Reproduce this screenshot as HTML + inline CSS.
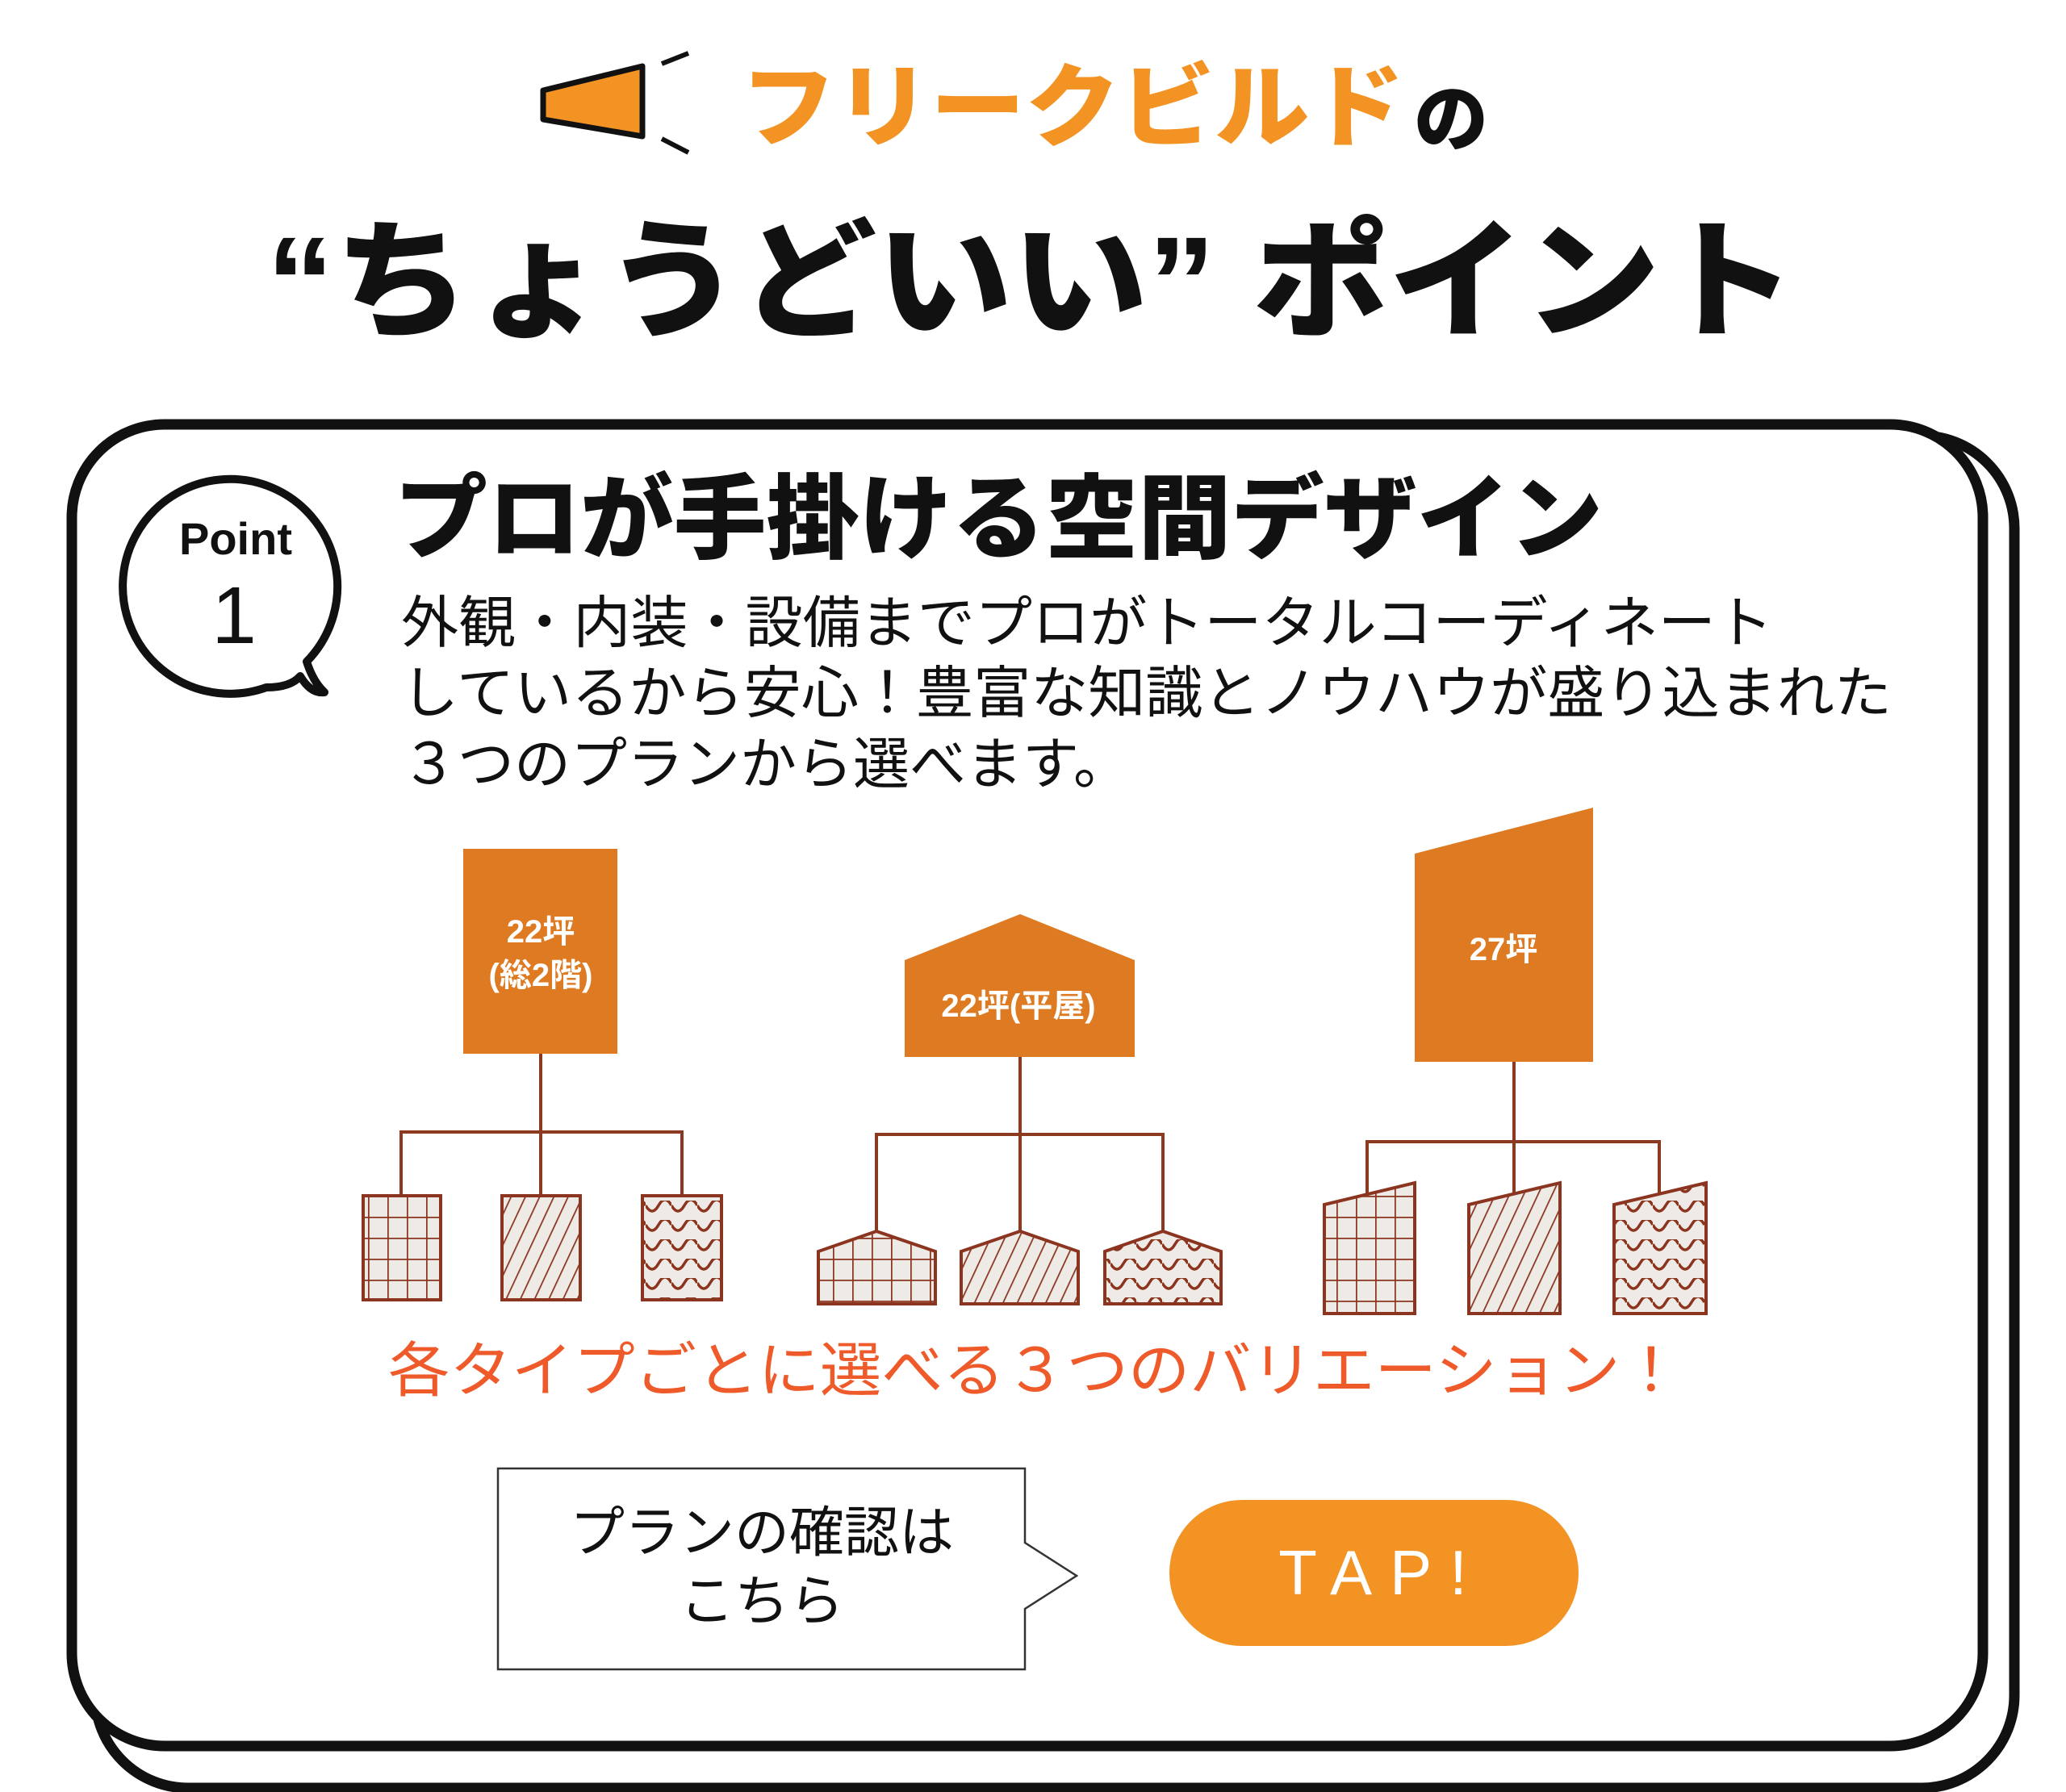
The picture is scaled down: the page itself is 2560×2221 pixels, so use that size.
<!DOCTYPE html>
<html><head><meta charset="utf-8"><style>
html,body{margin:0;padding:0;background:#fff;}
svg{display:block;}
text{font-family:"Liberation Sans","Noto Sans CJK JP",sans-serif;}
</style></head><body>
<svg width="2560" height="2221" viewBox="0 0 2560 2221" xmlns="http://www.w3.org/2000/svg">
<defs>
<pattern id="grid" width="24" height="26" patternUnits="userSpaceOnUse">
<rect width="24" height="26" fill="#eeeae6"/>
<path d="M0 0H24M0 0V26" stroke="#8b3520" stroke-width="3.5" fill="none"/>
</pattern>
<pattern id="stripe" width="16" height="16" patternUnits="userSpaceOnUse" patternTransform="rotate(25)">
<rect width="16" height="16" fill="#eeeae6"/>
<path d="M0 0V16" stroke="#8b3520" stroke-width="3.5"/>
</pattern>
<pattern id="wave" width="32" height="24" patternUnits="userSpaceOnUse">
<rect width="32" height="24" fill="#eeeae6"/>
<path d="M0 6 Q8 20 16 6 T32 6" stroke="#8b3520" stroke-width="3.5" fill="none"/>
</pattern>
</defs>

<!-- megaphone -->
<polygon points="673,112 796,82 796,169 673,148" fill="#f39323" stroke="#111" stroke-width="7" stroke-linejoin="round"/>
<line x1="820" y1="79" x2="853" y2="66" stroke="#111" stroke-width="6"/>
<line x1="820" y1="172" x2="853" y2="189" stroke="#111" stroke-width="6"/>

<text x="918" y="172" font-size="112" font-weight="900" fill="#f39323" textLength="822" lengthAdjust="spacingAndGlyphs">フリークビルド</text>
<text x="1752" y="180" font-size="92" font-weight="900" fill="#111">の</text>
<text x="330" y="405" font-size="160" font-weight="900" fill="#111" textLength="1895" lengthAdjust="spacingAndGlyphs">“ちょうどいい” ポイント</text>

<!-- cards -->
<rect x="118" y="540" width="2378" height="1676" rx="115" fill="#fff" stroke="#111" stroke-width="13"/>
<rect x="89" y="526" width="2368" height="1638" rx="115" fill="#fff" stroke="#111" stroke-width="13"/>

<!-- point bubble -->
<path d="M380,820 A133,133 0 1 0 330,852 Q360,852 372,838 Q385,860 402,858 Q388,845 380,820 Z" fill="#fff" stroke="#111" stroke-width="10" stroke-linejoin="round"/>
<text x="292" y="687" font-size="56" font-weight="700" fill="#111" text-anchor="middle">Point</text>
<text x="290" y="797" font-size="100" font-weight="400" fill="#111" text-anchor="middle">1</text>

<text x="489" y="683" font-size="114" font-weight="900" fill="#111" textLength="1497" lengthAdjust="spacingAndGlyphs">プロが手掛ける空間デザイン</text>
<g font-size="70" fill="#111">
<text x="497" y="796" textLength="1700" lengthAdjust="spacingAndGlyphs">外観・内装・設備までプロがトータルコーディネート</text>
<text x="497" y="883" textLength="1847" lengthAdjust="spacingAndGlyphs">しているから安心！豊富な知識とノウハウが盛り込まれた</text>
<text x="497" y="971">３つのプランから選べます。</text>
</g>

<!-- connectors -->
<g stroke="#8b3a20" stroke-width="4" fill="none">
<path d="M670 1306V1482M497 1482V1403H845V1482"/>
<path d="M1264 1310V1560M1086 1535V1406H1441V1540"/>
<path d="M1876 1316V1480M1694 1480V1415H2056V1480"/>
</g>

<!-- big houses -->
<rect x="574" y="1052" width="191" height="254" fill="#dd7a22"/>
<text x="670" y="1168" font-size="40" font-weight="700" fill="#fff" text-anchor="middle">22坪</text>
<text x="670" y="1222" font-size="40" font-weight="700" fill="#fff" text-anchor="middle">(総2階)</text>
<polygon points="1121,1190 1264,1133 1406,1190 1406,1310 1121,1310" fill="#dd7a22"/>
<text x="1262" y="1260" font-size="40" font-weight="700" fill="#fff" text-anchor="middle">22坪(平屋)</text>
<polygon points="1753,1058 1974,1001 1974,1316 1753,1316" fill="#dd7a22"/>
<text x="1863" y="1190" font-size="40" font-weight="700" fill="#fff" text-anchor="middle">27坪</text>

<!-- small variants -->
<g stroke="#8b3520" stroke-width="4">
<rect x="450" y="1482" width="96" height="129" fill="url(#grid)"/>
<rect x="622" y="1482" width="97" height="129" fill="url(#stripe)"/>
<rect x="796" y="1482" width="98" height="129" fill="url(#wave)"/>
<polygon points="1014,1551 1086,1526 1159,1551 1159,1616 1014,1616" fill="url(#grid)"/>
<polygon points="1191,1551 1264,1526 1336,1551 1336,1616 1191,1616" fill="url(#stripe)"/>
<polygon points="1369,1551 1441,1526 1513,1551 1513,1616 1369,1616" fill="url(#wave)"/>
<polygon points="1641,1493 1753,1466 1753,1628 1641,1628" fill="url(#grid)"/>
<polygon points="1820,1493 1933,1466 1933,1628 1820,1628" fill="url(#stripe)"/>
<polygon points="2000,1493 2114,1466 2114,1628 2000,1628" fill="url(#wave)"/>
</g>

<text x="481" y="1724" font-size="74" fill="#ee5a2a" textLength="1603" lengthAdjust="spacingAndGlyphs">各タイプごとに選べる３つのバリエーション！</text>

<!-- callout -->
<path d="M617,1820H1270V1912L1334,1953L1270,1994V2069H617Z" fill="#fff" stroke="#333" stroke-width="2.5"/>
<text x="944" y="1923" font-size="68" fill="#111" text-anchor="middle">プランの確認は</text>
<text x="944" y="2008" font-size="68" fill="#111" text-anchor="middle">こちら</text>

<rect x="1449" y="1859" width="507" height="181" rx="90" fill="#f39323"/>
<text x="1712" y="1976" font-size="78" fill="#fff" text-anchor="middle" letter-spacing="22">TAP!</text>
</svg>
</body></html>
